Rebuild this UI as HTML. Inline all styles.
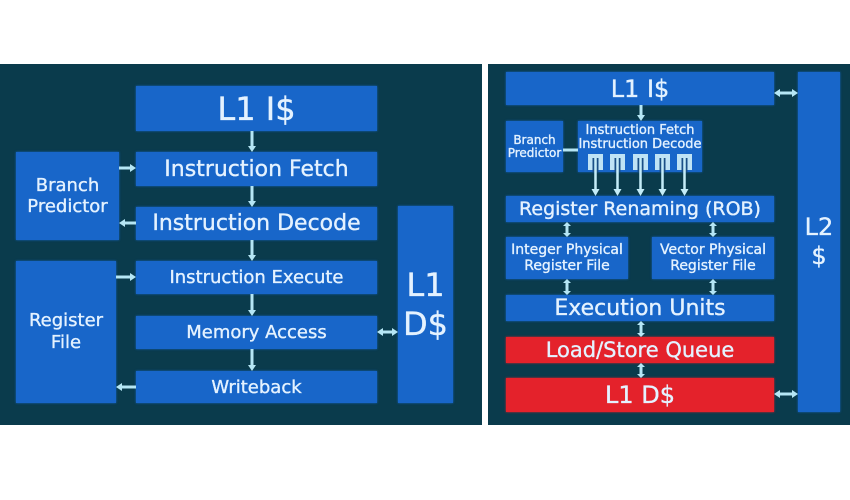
<!DOCTYPE html>
<html><head><meta charset="utf-8"><style>
html,body{margin:0;padding:0;background:#fff;width:850px;height:500px;overflow:hidden}
.p{position:absolute;background:#0a3b4c}
.b{position:absolute;background:#1866c9;color:#e4f2ff;font-family:"DejaVu Sans","Liberation Sans",sans-serif;display:flex;align-items:center;justify-content:center;text-align:center;box-shadow:0 0 2px #1866c9;white-space:nowrap;-webkit-text-stroke:0.35px #e4f2ff}
.r{background:#e4222b;box-shadow:0 0 2px #e4222b}
.sq{position:absolute;background:#bfe3f5;width:15px;height:16px}
svg{position:absolute;left:0;top:0}
</style></head><body>
<div class="p" style="left:0;top:64px;width:482px;height:361px"></div>
<div class="p" style="left:488px;top:64px;width:362px;height:361px"></div>

<!-- left panel -->
<div class="b" style="left:136px;top:86px;width:241px;height:45px;font-size:32px">L1 I$</div>
<div class="b" style="left:136px;top:152px;width:241px;height:34px;font-size:22px">Instruction Fetch</div>
<div class="b" style="left:16px;top:152px;width:103px;height:88px;font-size:18px;line-height:21px">Branch<br>Predictor</div>
<div class="b" style="left:136px;top:207px;width:241px;height:33px;font-size:22px">Instruction Decode</div>
<div class="b" style="left:16px;top:261px;width:100px;height:142px;font-size:18px;line-height:22px">Register<br>File</div>
<div class="b" style="left:136px;top:261px;width:241px;height:33px;font-size:18px">Instruction Execute</div>
<div class="b" style="left:136px;top:316px;width:241px;height:33px;font-size:18px">Memory Access</div>
<div class="b" style="left:136px;top:371px;width:241px;height:32px;font-size:18px">Writeback</div>
<div class="b" style="left:398px;top:206px;width:55px;height:197px;font-size:32px;line-height:39px">L1<br>D$</div>

<!-- right panel -->
<div class="b" style="left:506px;top:72px;width:268px;height:33px;font-size:24px">L1 I$</div>
<div class="b" style="left:798px;top:72px;width:42px;height:340px;font-size:24px;line-height:29px">L2<br>$</div>
<div class="b" style="left:506px;top:121px;width:57px;height:51px;font-size:12px;line-height:13px">Branch<br>Predictor</div>
<div class="b" style="left:578px;top:121px;width:124px;height:51px;font-size:13px;line-height:13.5px;align-items:flex-start;padding-top:3px;box-sizing:border-box">Instruction Fetch<br>Instruction Decode</div>
<div class="sq" style="left:588px;top:154px"></div>
<div class="sq" style="left:610px;top:154px"></div>
<div class="sq" style="left:633px;top:154px"></div>
<div class="sq" style="left:655px;top:154px"></div>
<div class="sq" style="left:677px;top:154px"></div>
<div class="b" style="left:506px;top:196px;width:268px;height:26px;font-size:19px">Register Renaming (ROB)</div>
<div class="b" style="left:506px;top:237px;width:122px;height:42px;font-size:14px;line-height:16px">Integer Physical<br>Register File</div>
<div class="b" style="left:652px;top:237px;width:122px;height:42px;font-size:14px;line-height:16px">Vector Physical<br>Register File</div>
<div class="b" style="left:506px;top:295px;width:268px;height:26px;font-size:22px">Execution Units</div>
<div class="b r" style="left:506px;top:337px;width:268px;height:26px;font-size:21px">Load/Store Queue</div>
<div class="b r" style="left:506px;top:378px;width:268px;height:34px;font-size:24px">L1 D$</div>

<svg width="850" height="500" viewBox="0 0 850 500">
<g stroke="#b5e6f5" stroke-width="3" fill="none">
<line x1="252" y1="131" x2="252" y2="147"/>
<line x1="252" y1="186" x2="252" y2="202"/>
<line x1="252" y1="240" x2="252" y2="256"/>
<line x1="252" y1="294" x2="252" y2="311"/>
<line x1="252" y1="349" x2="252" y2="366"/>
<line x1="119" y1="168" x2="131" y2="168"/>
<line x1="124" y1="223" x2="136" y2="223"/>
<line x1="116" y1="277" x2="131" y2="277"/>
<line x1="121" y1="387" x2="136" y2="387"/>
<line x1="382" y1="332" x2="393" y2="332"/>
<line x1="641" y1="105" x2="641" y2="116"/>
<line x1="563" y1="150" x2="578" y2="150"/>
<line x1="567" y1="226" x2="567" y2="233"/>
<line x1="713" y1="226" x2="713" y2="233"/>
<line x1="567" y1="283" x2="567" y2="291"/>
<line x1="713" y1="283" x2="713" y2="291"/>
<line x1="641" y1="325" x2="641" y2="333"/>
<line x1="641" y1="367" x2="641" y2="374"/>
<line x1="779" y1="93" x2="793" y2="93"/>
<line x1="779" y1="394" x2="793" y2="394"/>
</g>
<g fill="#b5e6f5">
<polygon points="248,146 256,146 252,152"/>
<polygon points="248,201 256,201 252,207"/>
<polygon points="248,255 256,255 252,261"/>
<polygon points="248,310 256,310 252,316"/>
<polygon points="248,365 256,365 252,371"/>
<polygon points="130,164 130,172 136,168"/>
<polygon points="125,219 125,227 119,223"/>
<polygon points="130,273 130,281 136,277"/>
<polygon points="122,383 122,391 116,387"/>
<polygon points="383,328 383,336 377,332"/>
<polygon points="392,328 392,336 398,332"/>
<polygon points="637,115 645,115 641,121"/>
<polygon points="563,226 571,226 567,222"/>
<polygon points="563,233 571,233 567,237"/>
<polygon points="709,226 717,226 713,222"/>
<polygon points="709,233 717,233 713,237"/>
<polygon points="563,283 571,283 567,279"/>
<polygon points="563,291 571,291 567,295"/>
<polygon points="709,283 717,283 713,279"/>
<polygon points="709,291 717,291 713,295"/>
<polygon points="637,325 645,325 641,321"/>
<polygon points="637,333 645,333 641,337"/>
<polygon points="637,367 645,367 641,363"/>
<polygon points="637,374 645,374 641,378"/>
<polygon points="780,89 780,97 774,93"/>
<polygon points="792,89 792,97 798,93"/>
<polygon points="780,390 780,398 774,394"/>
<polygon points="792,390 792,398 798,394"/>
</g>
<g stroke="#1a4f86" stroke-width="6">
<line x1="595.5" y1="158" x2="595.5" y2="172"/>
<line x1="617.5" y1="158" x2="617.5" y2="172"/>
<line x1="640.5" y1="158" x2="640.5" y2="172"/>
<line x1="662.5" y1="158" x2="662.5" y2="172"/>
<line x1="684.5" y1="158" x2="684.5" y2="172"/>
</g>
<g stroke="#c4ecf8" stroke-width="2.5">
<line x1="595.5" y1="158" x2="595.5" y2="191"/>
<line x1="617.5" y1="158" x2="617.5" y2="191"/>
<line x1="640.5" y1="158" x2="640.5" y2="191"/>
<line x1="662.5" y1="158" x2="662.5" y2="191"/>
<line x1="684.5" y1="158" x2="684.5" y2="191"/>
</g>
<g fill="#c4ecf8">
<polygon points="591.5,189 599.5,189 595.5,196"/>
<polygon points="613.5,189 621.5,189 617.5,196"/>
<polygon points="636.5,189 644.5,189 640.5,196"/>
<polygon points="658.5,189 666.5,189 662.5,196"/>
<polygon points="680.5,189 688.5,189 684.5,196"/>
</g>
</svg>
</body></html>
